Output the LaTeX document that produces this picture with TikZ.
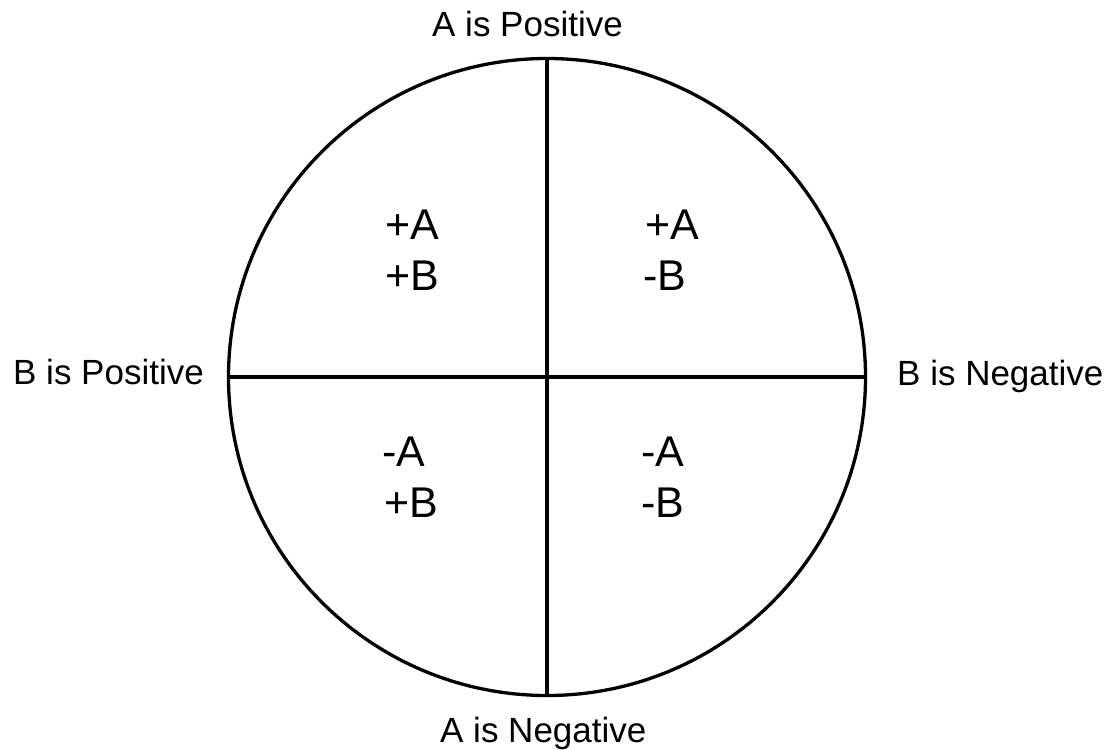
\documentclass[tikz,border=0pt]{standalone}
\usepackage{fontspec}
\setmainfont{Liberation Sans}
\begin{document}
\begin{tikzpicture}[x=1pt,y=-1pt,
  outer/.style={inner sep=0pt,anchor=base west,font=\fontsize{35}{40}\selectfont},
  quad/.style={inner sep=0pt,anchor=base west,font=\fontsize{43}{48}\selectfont},
  ring/.style={draw,circle,line width=3.3pt,inner sep=0pt,minimum size=637pt},
  axis/.style={line width=3.3pt}]
\useasboundingbox (0,0) rectangle (1107,749);
\node[ring] (c) at (547,377) {};
\draw[axis] (c.north) -- (c.south);
\draw[axis] (c.west) -- (c.east);
\node[outer] (ap) at (432,37) {A is Positive};
\node[outer] (an) at (440,742) {A is Negative};
\node[outer] (bp) at (13,384) {B is Positive};
\node[outer] (bn) at (897,385) {B is Negative};
\node[quad] (tl1) at (385,239) {+A};
\node[quad] (tl2) at (385,290) {+B};
\node[quad] (tr1) at (645,239) {+A};
\node[quad] (tr2) at (643,290) {-B};
\node[quad] (bl1) at (382,466) {-A};
\node[quad] (bl2) at (384,517) {+B};
\node[quad] (br1) at (641,466) {-A};
\node[quad] (br2) at (641,517) {-B};
\end{tikzpicture}
\end{document}
